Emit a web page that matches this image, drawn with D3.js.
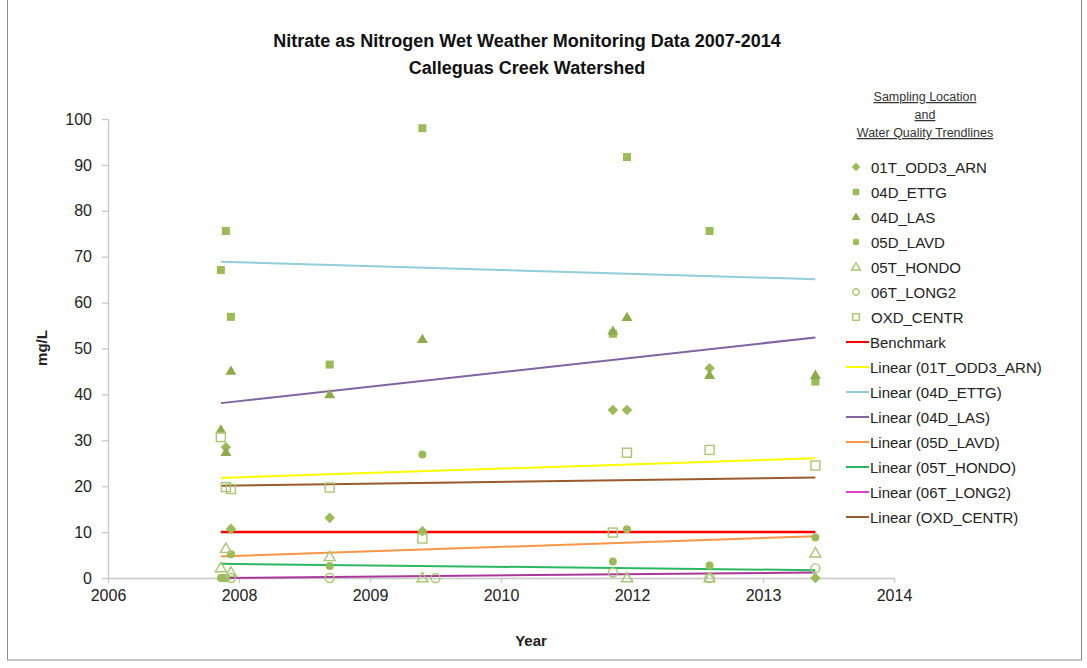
<html><head>
  <script src="https://d3js.org/d3.v7.min.js"></script>
  <style>
    body { margin:0; background:#fff; }
    text { font-family: "Liberation Sans", Arial, sans-serif; fill:#222; }
  </style>
</head>
<body>
<svg id="chart" width="1087" height="668"></svg>
<script>
  // sampling events, decimal years
  const stations = ["01T_ODD3_ARN","04D_ETTG","04D_LAS","05D_LAVD","05T_HONDO","06T_LONG2","OXD_CENTR"];

  const odd3Arn = [[2008.07,28.5],[2008.12,10.7],[2009.10,13.1],[2010.02,10.2],[2011.91,36.6],[2012.05,36.6],[2012.87,45.7],[2013.92,0]];
  const ettg    = [[2008.02,67.1],[2008.07,75.6],[2008.12,56.9],[2009.10,46.5],[2010.02,98.0],[2011.91,53.2],[2012.05,91.7],[2012.87,75.6],[2013.92,42.8]];
  const las     = [[2008.02,32.3],[2008.07,27.4],[2008.12,45.1],[2009.10,40.0],[2010.02,52.0],[2011.91,53.8],[2012.05,56.8],[2012.87,44.2],[2013.92,44.2]];
  const lavd    = [[2008.02,0],[2008.05,0],[2008.07,0],[2008.12,5.2],[2009.10,2.6],[2010.02,26.9],[2011.91,3.6],[2012.05,10.6],[2012.87,2.7],[2013.92,8.8]];
  const hondo   = [[2008.02,2.2],[2008.07,6.4],[2008.12,1.2],[2009.10,4.6],[2010.02,0],[2012.05,0],[2012.87,0],[2013.92,5.4]];
  const long2   = [[2008.12,0],[2009.10,0],[2010.15,0],[2011.91,1.2],[2012.87,0],[2013.92,2.1]];
  const oxdCentr= [[2008.02,30.7],[2008.07,19.8],[2008.12,19.4],[2009.10,19.7],[2010.02,8.6],[2011.91,9.9],[2012.05,27.3],[2012.87,27.9],[2013.92,24.5]];

  // trendlines (value at first and last sampling date)
  const trendNames = ["Benchmark","Linear (01T_ODD3_ARN)","Linear (04D_ETTG)","Linear (04D_LAS)","Linear (05D_LAVD)","Linear (05T_HONDO)","Linear (06T_LONG2)","Linear (OXD_CENTR)"];
  const trendStart = [10, 21.8, 68.9, 38.1, 4.7, 3.1, 0, 20.1];
  const trendEnd   = [10, 26.1, 65.1, 52.4, 9.1, 1.7, 1.2, 21.9];
  const trendX     = [2008.02, 2013.92];

  const yTicks = [0,10,20,30,40,50,60,70,80,90,100];
  const xTicks = [2006.9, 2008.2, 2009.5, 2010.8, 2012.1, 2013.4, 2014.7];

  const series = [odd3Arn, ettg, las, lavd, hondo, long2, oxdCentr];
  const shapes = ["diamond","square","triangle","circle","triangle","circle","square"];
  const filled = [true,true,true,true,false,false,false];
  const trendColors  = ["#ff0000","#ffff00","#92cddc","#8064a2","#f79646","#2cb860","#a8389a","#9b5a2e"];
  const legendColors = ["#ff0000","#ffff00","#92cddc","#8064a2","#f79646","#2cb860","#e040c8","#9b5a2e"];

  const green = "#9bbb59";
  const svg = d3.select("svg#chart");

  svg.append("rect")
     .attr("x",7.5).attr("y",-2).attr("width",1074).attr("height",662)
     .style("fill","none").style("stroke","#8c8c8c").style("stroke-width",1);

  let x = d3.scaleLinear().domain([2006.9,2014.7]).range([108,894]);
  let y = d3.scaleLinear().domain([0,100]).range([578,119]);

  // axes
  let xAxis = d3.axisBottom(x).tickValues(xTicks).tickFormat(d => Math.floor(d)).tickSize(5).tickPadding(7);
  let yAxis = d3.axisLeft(y).tickValues(yTicks).tickSize(6).tickPadding(10);

  let gx = svg.append("g").attr("transform","translate(0,578)").call(xAxis);
  let gy = svg.append("g").attr("transform","translate(108,0)").call(yAxis);
  [gx,gy].forEach(g => {
    g.selectAll("path,line").style("stroke","#c8c8c8").style("stroke-width",1.3);
    g.selectAll("text").style("font-size","16px").style("fill","#222")
     .style("font-family","'Liberation Sans', Arial, sans-serif");
  });
  gx.select(".domain").attr("d","M108,0.5H894");
  gy.select(".domain").attr("d","M0.5,119V578");

  // trendlines
  trendNames.forEach((n,i) => {
    svg.append("line")
       .attr("x1",x(trendX[0])).attr("x2",x(trendX[1]))
       .attr("y1",y(trendStart[i])).attr("y2",y(trendEnd[i]))
       .style("stroke",trendColors[i])
       .style("stroke-width", i==0 ? 2.5 : 2);
  });

  function marker(g, shape, size) {
    if (shape == "diamond")
      return g.append("rect").attr("x",-size/2).attr("y",-size/2).attr("width",size).attr("height",size)
              .attr("transform","rotate(45)");
    if (shape == "square")
      return g.append("rect").attr("x",-size/2).attr("y",-size/2).attr("width",size).attr("height",size);
    if (shape == "circle")
      return g.append("circle").attr("r",size/2);
    let h = size*0.9;
    return g.append("path").attr("d",`M0,${-h*0.62}L${size/2+0.5},${h*0.42}L${-size/2-0.5},${h*0.42}Z`);
  }

  function style(m, i) {
    if (filled[i]) m.style("fill", i==2 ? "#8cac4c" : green).style("stroke","none");
    else m.style("fill","none").style("stroke","#a9c672").style("stroke-width",1.4);
  }

  // points
  series.forEach((s,i) => {
    s.forEach(d => {
      let g = svg.append("g").attr("transform",`translate(${x(d[0])},${y(d[1])})`);
      let size = shapes[i]=="diamond" ? 7.5 : (shapes[i]=="triangle" ? 10 : (filled[i] ? 8 : 9));
      style(marker(g, shapes[i], size), i);
    });
  });

  // titles
  svg.append("text").text("Nitrate as Nitrogen Wet Weather Monitoring Data 2007-2014")
     .attr("x",527).attr("y",47).style("text-anchor","middle")
     .style("font-size","18px").style("font-weight","bold").style("fill","#111");
  svg.append("text").text("Calleguas Creek Watershed")
     .attr("x",527).attr("y",74).style("text-anchor","middle")
     .style("font-size","18px").style("font-weight","bold").style("fill","#111");
  svg.append("text").text("Year")
     .attr("x",531).attr("y",646).style("text-anchor","middle")
     .style("font-size","15px").style("font-weight","bold");
  svg.append("text").text("mg/L")
     .attr("transform","translate(47,348) rotate(-90)").style("text-anchor","middle")
     .style("font-size","15px").style("font-weight","bold");

  // legend
  ["Sampling Location","and","Water Quality Trendlines"].forEach((t,i) => {
    svg.append("text").text(t)
       .attr("x",925).attr("y",101 + i*18).style("text-anchor","middle")
       .style("font-size","12.5px").style("text-decoration","underline").style("fill","#333");
  });

  stations.forEach((n,i) => {
    let ly = 167 + i*25;
    let g = svg.append("g").attr("transform",`translate(856,${ly})`);
    let size = shapes[i]=="diamond" ? 6 : (shapes[i]=="triangle" ? 8 : 6.5);
    style(marker(g, shapes[i], size), i);
    svg.append("text").text(n).attr("x",871).attr("y",ly)
       .style("dominant-baseline","central").style("font-size","15px");
  });

  trendNames.forEach((n,i) => {
    let ly = 167 + (i+7)*25;
    svg.append("line").attr("x1",846).attr("x2",869).attr("y1",ly).attr("y2",ly)
       .style("stroke",legendColors[i]).style("stroke-width",2);
    svg.append("text").text(n).attr("x",870).attr("y",ly)
       .style("dominant-baseline","central").style("font-size","15px");
  });
</script>
</body>
</html>
